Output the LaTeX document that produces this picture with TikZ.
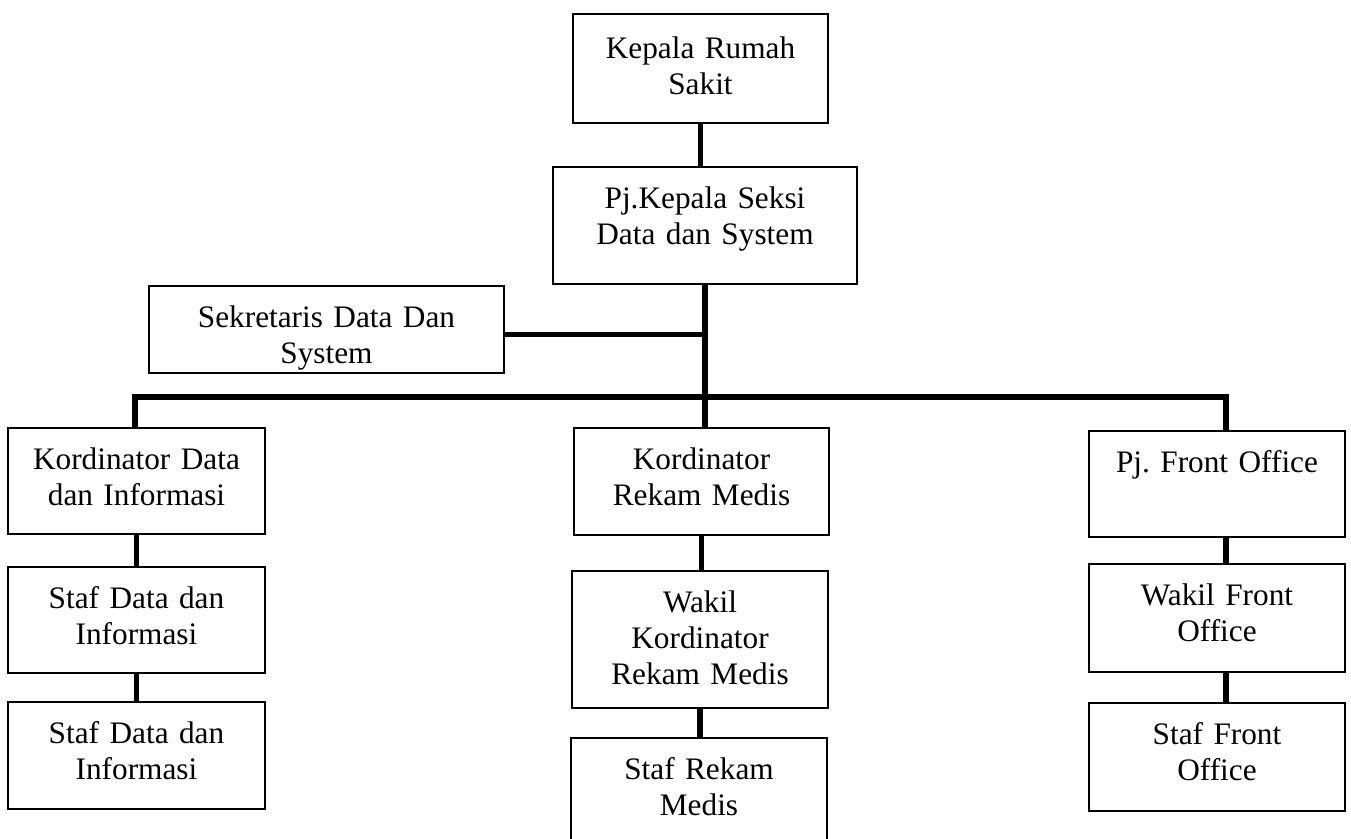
\documentclass[tikz,border=0pt]{standalone}
\usepackage{fontspec}
\setmainfont{Liberation Serif}
\frenchspacing
\newcommand{\px}{0.3834pt}

\begin{document}
\begin{tikzpicture}[x=0.3834pt, y=-0.3834pt,
    box/.style={draw, line width=0.8pt, anchor=north, align=center,
        inner xsep=4*\px, inner ysep=0pt, text height=41*\px,
        font=\fontsize{12pt}{13.8pt}\selectfont},
    link/.style={line width=2.1pt}]
    \useasboundingbox (0,0) rectangle (1351,838);
    \node[box, text width=247*\px, text depth=65*\px, text height=44*\px] (krs) at (700.5,13) {Kepala Rumah\\Sakit};
    \node[box, text width=296*\px, text depth=76*\px] (pjk) at (705,166) {Pj.Kepala Seksi\\Data dan System};
    \node[box, text width=347*\px, text depth=46*\px] (sek) at (326.5,285) {Sekretaris Data Dan\\System};
    \node[box, text width=249*\px, text depth=65*\px] (kdi) at (136.5,427) {Kordinator Data\\dan Informasi};
    \node[box, text width=249*\px, text depth=65*\px] (sdi1) at (136.5,566) {Staf Data dan\\Informasi};
    \node[box, text width=249*\px, text depth=66*\px] (sdi2) at (136.5,701) {Staf Data dan\\Informasi};
    \node[box, text width=247*\px, text depth=66*\px] (krm) at (701.5,427) {Kordinator\\Rekam Medis};
    \node[box, text width=248*\px, text depth=96*\px] (wkrm) at (700,570) {Wakil\\Kordinator\\Rekam Medis};
    \node[box, text width=248*\px, text depth=79*\px] (srm) at (699,737) {Staf Rekam\\Medis};
    \node[box, text width=248*\px, text depth=65*\px] (pfo) at (1217,430) {Pj. Front Office};
    \node[box, text width=248*\px, text depth=67*\px] (wfo) at (1217,563) {Wakil Front\\Office};
    \node[box, text width=248*\px, text depth=67*\px] (sfo) at (1217,702) {Staf Front\\Office};
    \coordinate (busL) at (135,397);
    \coordinate (busR) at (1226,397);
    \draw[link] (krs.south) -- (krs.south |- pjk.north);
    \draw[link] (pjk.south) -- (pjk.south |- krm.north);
    \draw[link] ([yshift=-5*\px]sek.east) -- ([yshift=-5*\px, xshift=3*\px]sek.east -| pjk.south);
    \draw[link] (busL |- kdi.north) -- (busL) -- (busR) -- (busR |- pfo.north);
    \draw[link] (kdi.south) -- (sdi1.north);
    \draw[link] (sdi1.south) -- (sdi2.north);
    \draw[link] (krm.south) -- (krm.south |- wkrm.north);
    \draw[link] (wkrm.south) -- (wkrm.south |- srm.north);
    \draw[link] (pfo.south -| busR) -- (wfo.north -| busR);
    \draw[link] (wfo.south -| busR) -- (sfo.north -| busR);
\end{tikzpicture}
\end{document}
